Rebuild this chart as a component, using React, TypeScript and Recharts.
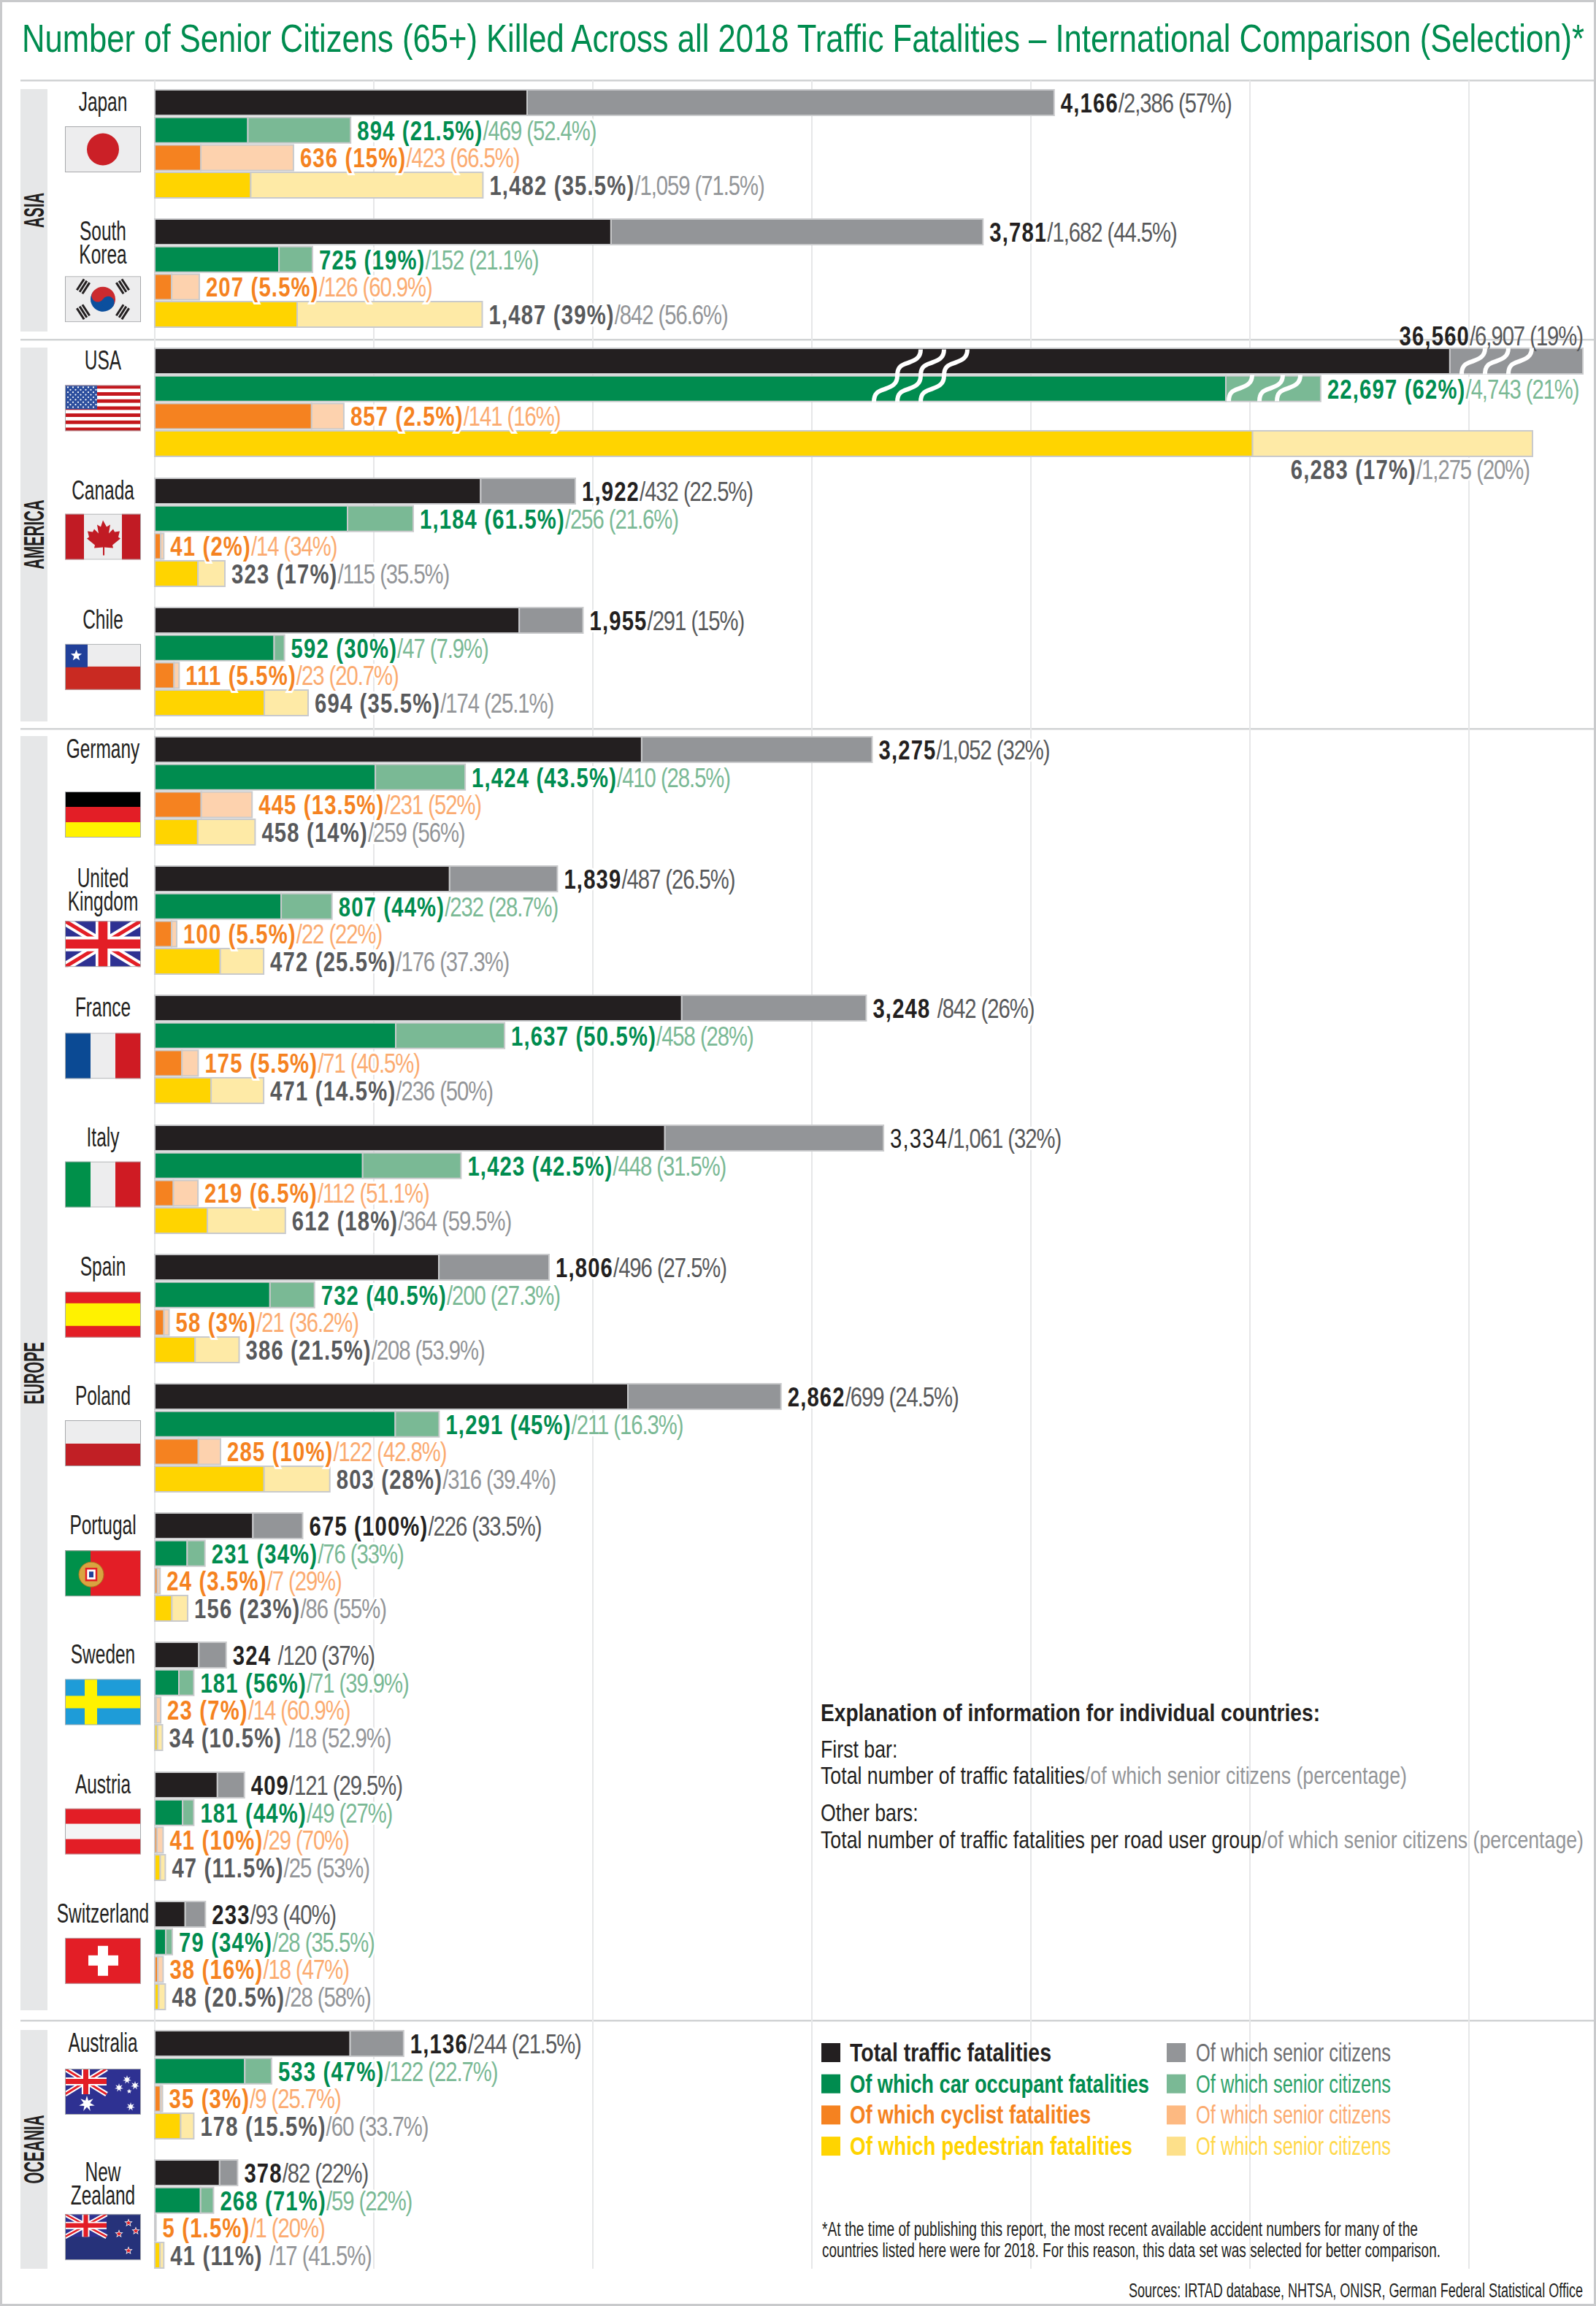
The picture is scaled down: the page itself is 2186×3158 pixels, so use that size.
import { BarChart, Bar, XAxis, YAxis, CartesianGrid, Cell, LabelList } from "recharts";

const countries = ["Japan", "South Korea", "USA", "Canada", "Chile", "Germany", "United Kingdom", "France", "Italy", "Spain", "Poland", "Portugal", "Sweden", "Austria", "Switzerland", "Australia", "New Zealand"];

// bar lengths; USA is drawn with a broken axis so its lengths are the drawn ones
const totalUnder65 = [1700, 2083, 5913, 1488, 1664, 2223, 1346, 2406, 2329, 1297, 2160, 448, 201, 286, 139, 892, 296];
const totalSenior = [2406, 1698, 607, 432, 291, 1052, 492, 842, 998, 503, 699, 227, 125, 123, 92, 244, 82];
const carUnder65 = [425, 567, 4890, 880, 545, 1007, 577, 1100, 949, 526, 1098, 148, 110, 127, 50, 411, 209];
const carSenior = [469, 153, 433, 300, 47, 410, 232, 497, 449, 203, 200, 81, 68, 51, 30, 122, 59];
const cyclistUnder65 = [210, 77, 716, 27, 88, 212, 77, 124, 85, 42, 199, 12, 6, 10, 14, 26, 4];
const cyclistSenior = [423, 126, 147, 14, 23, 232, 23, 74, 112, 23, 101, 12, 21, 28, 24, 9, 1];
const pedestrianUnder65 = [438, 650, 5012, 197, 500, 196, 299, 257, 240, 184, 499, 78, 12, 25, 18, 118, 24];
const pedestrianSenior = [1060, 845, 1278, 123, 200, 262, 198, 240, 356, 201, 300, 72, 23, 23, 30, 60, 17];

const totalStrong = ["4,166", "3,781", "36,560", "1,922", "1,955", "3,275", "1,839", "3,248 ", "3,334", "1,806", "2,862", "675 (100%)", "324 ", "409", "233", "1,136", "378"];
const totalLight = ["/2,386 (57%)", "/1,682 (44.5%)", "/6,907 (19%)", "/432 (22.5%)", "/291 (15%)", "/1,052 (32%)", "/487 (26.5%)", "/842 (26%)", "/1,061 (32%)", "/496 (27.5%)", "/699 (24.5%)", "/226 (33.5%)", "/120 (37%)", "/121 (29.5%)", "/93 (40%)", "/244 (21.5%)", "/82 (22%)"];
const carStrong = ["894 (21.5%)", "725 (19%)", "22,697 (62%)", "1,184 (61.5%)", "592 (30%)", "1,424 (43.5%)", "807 (44%)", "1,637 (50.5%)", "1,423 (42.5%)", "732 (40.5%)", "1,291 (45%)", "231 (34%)", "181 (56%)", "181 (44%)", "79 (34%)", "533 (47%)", "268 (71%)"];
const carLight = ["/469 (52.4%)", "/152 (21.1%)", "/4,743 (21%)", "/256 (21.6%)", "/47 (7.9%)", "/410 (28.5%)", "/232 (28.7%)", "/458 (28%)", "/448 (31.5%)", "/200 (27.3%)", "/211 (16.3%)", "/76 (33%)", "/71 (39.9%)", "/49 (27%)", "/28 (35.5%)", "/122 (22.7%)", "/59 (22%)"];
const cyclistStrong = ["636 (15%)", "207 (5.5%)", "857 (2.5%)", "41 (2%)", "111 (5.5%)", "445 (13.5%)", "100 (5.5%)", "175 (5.5%)", "219 (6.5%)", "58 (3%)", "285 (10%)", "24 (3.5%)", "23 (7%)", "41 (10%)", "38 (16%)", "35 (3%)", "5 (1.5%)"];
const cyclistLight = ["/423 (66.5%)", "/126 (60.9%)", "/141 (16%)", "/14 (34%)", "/23 (20.7%)", "/231 (52%)", "/22 (22%)", "/71 (40.5%)", "/112 (51.1%)", "/21 (36.2%)", "/122 (42.8%)", "/7 (29%)", "/14 (60.9%)", "/29 (70%)", "/18 (47%)", "/9 (25.7%)", "/1 (20%)"];
const pedestrianStrong = ["1,482 (35.5%)", "1,487 (39%)", "6,283 (17%)", "323 (17%)", "694 (35.5%)", "458 (14%)", "472 (25.5%)", "471 (14.5%)", "612 (18%)", "386 (21.5%)", "803 (28%)", "156 (23%)", "34 (10.5%) ", "47 (11.5%)", "48 (20.5%)", "178 (15.5%)", "41 (11%) "];
const pedestrianLight = ["/1,059 (71.5%)", "/842 (56.6%)", "/1,275 (20%)", "/115 (35.5%)", "/174 (25.1%)", "/259 (56%)", "/176 (37.3%)", "/236 (50%)", "/364 (59.5%)", "/208 (53.9%)", "/316 (39.4%)", "/86 (55%)", "/18 (52.9%)", "/25 (53%)", "/28 (58%)", "/60 (33.7%)", "/17 (41.5%)"];

const gridTicks = [0, 1000, 2000, 3000, 4000, 5000, 6000];

const FONT = '"Liberation Sans", sans-serif';
const GREEN = "#008c4f";
const BLACK = "#231f20";
const DARK = "#58595b";
const BORDER = "#c9cacc";

const groupStyles = [
  { main: BLACK, senior: "#939598", strong: BLACK, light: DARK },
  { main: GREEN, senior: "#7ab995", strong: GREEN, light: "#7ab995" },
  { main: "#f58220", senior: "#fdd2ae", strong: "#f58220", light: "#fbab70" },
  { main: "#ffd400", senior: "#feeaa6", strong: DARK, light: "#939598" },
];

const AXIS_MAX = 6580;
const PAD_LEFT = 10;
const CHART_W = 1974 + PAD_LEFT;
const ROW = 37.7;
const BLOCK_STEP = 177.2;
const FIRST_TOP = 124;
const blockTop = (i: number) => FIRST_TOP + BLOCK_STEP * i;

function rowsFor(i: number) {
  return [
    { group: "Total", under65: totalUnder65[i], senior: totalSenior[i], strong: totalStrong[i], light: totalLight[i] },
    { group: "Car", under65: carUnder65[i], senior: carSenior[i], strong: carStrong[i], light: carLight[i] },
    { group: "Cyclist", under65: cyclistUnder65[i], senior: cyclistSenior[i], strong: cyclistStrong[i], light: cyclistLight[i] },
    { group: "Pedestrian", under65: pedestrianUnder65[i], senior: pedestrianSenior[i], strong: pedestrianStrong[i], light: pedestrianLight[i] },
  ];
}

function CountryChart({ index }: { index: number }) {
  const rows = rowsFor(index);
  const isUsa = countries[index] === "USA";
  const isItaly = countries[index] === "Italy";

  const renderLabel = (p: any) => {
    const row = rows[p.index];
    const st = groupStyles[p.index];
    const end = p.x + p.width;
    let x = end + 9;
    let y = p.y + p.height - 4;
    let anchor = "start";
    let halo = "#fff";
    // the USA labels don't fit beside the long bars
    if (isUsa && p.index === 0) {
      x = end;
      y = p.y - 4;
      anchor = "end";
      halo = "none";
    }
    if (isUsa && p.index === 3) {
      x = end - 4;
      y = p.y + p.height + 31;
      anchor = "end";
    }
    const plain = isItaly && p.index === 0;
    return (
      <text
        transform={`translate(${x} ${y}) scale(0.79 1)`}
        textAnchor={anchor}
        fontFamily={FONT}
        fontSize={37}
        stroke={halo}
        strokeWidth={6}
        paintOrder="stroke"
        style={{ whiteSpace: "pre" }}
      >
        <tspan fill={st.strong} fontWeight={plain ? 400 : 700} letterSpacing={1.5}>{row.strong}</tspan>
        <tspan fill={st.light} letterSpacing={-1.3}>{row.light}</tspan>
      </text>
    );
  };

  return (
    <div style={{ position: "absolute", left: 212 - PAD_LEFT, top: blockTop(index) - 2 - 50 }}>
      <BarChart
        width={CHART_W}
        height={ROW * 4 + 100}
        data={rows}
        layout="vertical"
        barSize={35}
        margin={{ top: 50, right: 0, bottom: 50, left: PAD_LEFT }}
      >
        <XAxis type="number" hide domain={[0, AXIS_MAX]} />
        <YAxis type="category" dataKey="group" hide />
        <Bar dataKey="under65" stackId="a" isAnimationActive={false} stroke={BORDER} strokeWidth={2}>
          {rows.map((_, k) => (
            <Cell key={k} fill={groupStyles[k].main} />
          ))}
        </Bar>
        <Bar dataKey="senior" stackId="a" isAnimationActive={false} stroke={BORDER} strokeWidth={2}>
          {rows.map((_, k) => (
            <Cell key={k} fill={groupStyles[k].senior} />
          ))}
          <LabelList dataKey="senior" content={renderLabel} />
        </Bar>
      </BarChart>
    </div>
  );
}

function GridBackground() {
  return (
    <div style={{ position: "absolute", left: 212 - PAD_LEFT, top: 110 }}>
      <BarChart
        width={CHART_W}
        height={2997}
        data={[{ group: "grid", v: 0 }]}
        layout="vertical"
        margin={{ top: 0, right: 0, bottom: 0, left: PAD_LEFT }}
      >
        <CartesianGrid vertical horizontal={false} stroke="#e6e7e8" strokeWidth={2} verticalValues={gridTicks} />
        <XAxis type="number" hide domain={[0, AXIS_MAX]} ticks={gridTicks} />
        <YAxis type="category" dataKey="group" hide />
        <Bar dataKey="v" isAnimationActive={false} fill="none" />
      </BarChart>
    </div>
  );
}

const regionBands = [
  { name: "ASIA", top: 122, bottom: 454, len: 48 },
  { name: "AMERICA", top: 476, bottom: 988, len: 95 },
  { name: "EUROPE", top: 1008, bottom: 2753, len: 85 },
  { name: "OCEANIA", top: 2780, bottom: 3107, len: 94 },
];
const separators = [110, 465, 998, 2767];

const WHITE = "#ededee";
const RED = "#e31e26";

function star(cx: number, cy: number, r: number, points = 5) {
  const pts: string[] = [];
  for (let i = 0; i < points * 2; i++) {
    const rad = i % 2 === 0 ? r : r * 0.42;
    const a = (Math.PI * i) / points - Math.PI / 2;
    pts.push(`${(cx + rad * Math.cos(a)).toFixed(2)},${(cy + rad * Math.sin(a)).toFixed(2)}`);
  }
  return pts.join(" ");
}

function UnionJack({ w, h }: { w: number; h: number }) {
  const t = h / 5;
  return (
    <g>
      <rect width={w} height={h} fill="#2e3192" />
      <path d={`M0 0L${w} ${h}M${w} 0L0 ${h}`} stroke="#fff" strokeWidth={t} />
      <path d={`M0 0L${w} ${h}M${w} 0L0 ${h}`} stroke={RED} strokeWidth={t / 2.5} />
      <path d={`M${w / 2} 0V${h}M0 ${h / 2}H${w}`} stroke="#fff" strokeWidth={t * 1.6} />
      <path d={`M${w / 2} 0V${h}M0 ${h / 2}H${w}`} stroke={RED} strokeWidth={t} />
    </g>
  );
}

function Trigram({ x, y, rot }: { x: number; y: number; rot: number }) {
  return (
    <g transform={`translate(${x} ${y}) rotate(${rot})`} fill="#231f20">
      <rect x={-9} y={-6} width={18} height={3} />
      <rect x={-9} y={-1.5} width={18} height={3} />
      <rect x={-9} y={3} width={18} height={3} />
    </g>
  );
}

function FlagArt({ name }: { name: string }) {
  switch (name) {
    case "Japan":
      return (<><rect width={104} height={63} fill={WHITE} /><circle cx={52} cy={31.5} r={22} fill="#cb2027" /></>);
    case "South Korea":
      return (
        <>
          <rect width={104} height={63} fill={WHITE} />
          <g transform="rotate(33 52 31.5)">
            <path d="M35 31.5a17 17 0 0 1 34 0z" fill="#cb2a2f" />
            <path d="M35 31.5a17 17 0 0 0 34 0z" fill="#0b4f9e" />
            <circle cx={43.5} cy={31.5} r={8.5} fill="#cb2a2f" />
            <circle cx={60.5} cy={31.5} r={8.5} fill="#0b4f9e" />
          </g>
          <Trigram x={25} y={14} rot={-57} />
          <Trigram x={79} y={14} rot={57} />
          <Trigram x={25} y={49} rot={57} />
          <Trigram x={79} y={49} rot={-57} />
        </>
      );
    case "USA":
      return (
        <>
          <rect width={104} height={63} fill="#fff" />
          {[0, 2, 4, 6, 8, 10, 12].map((k) => (
            <rect key={k} y={(k * 63) / 13} width={104} height={63 / 13} fill="#c4161c" />
          ))}
          <rect width={44} height={33} fill="#2d4f9e" />
          {[0, 1, 2, 3, 4, 5, 6, 7, 8].map((r) =>
            [0, 1, 2, 3, 4, 5].map((c) => (
              <circle key={`${r}-${c}`} cx={4 + c * 7 + (r % 2) * 3.5} cy={3 + r * 3.4} r={1.1} fill="#fff" />
            ))
          )}
        </>
      );
    case "Canada":
      return (
        <>
          <rect width={104} height={63} fill={WHITE} />
          <rect width={26} height={63} fill="#c11b24" />
          <rect x={78} width={26} height={63} fill="#c11b24" />
          <path d="M52 9l5 9 5-3-2 12 6-6 2 4 7-1-2 8 3 2-11 9 1 4-12-1v11h-2V46l-12 1 1-4-11-9 3-2-2-8 7 1 2-4 6 6-2-12 5 3z" fill="#c11b24" />
        </>
      );
    case "Chile":
      return (
        <>
          <rect width={104} height={32} fill={WHITE} />
          <rect y={31} width={104} height={32} fill="#c92a22" />
          <rect width={31} height={32} fill="#21409a" />
          <polygon points={star(15.5, 16, 8)} fill="#fff" />
        </>
      );
    case "Germany":
      return (<><rect width={104} height={21} fill="#000" /><rect y={21} width={104} height={21} fill={RED} /><rect y={42} width={104} height={21} fill="#fff200" /></>);
    case "United Kingdom":
      return <UnionJack w={104} h={63} />;
    case "France":
      return (<><rect width={35} height={63} fill="#0b4a94" /><rect x={35} width={34} height={63} fill={WHITE} /><rect x={69} width={35} height={63} fill="#cf1b23" /></>);
    case "Italy":
      return (<><rect width={35} height={63} fill="#00904a" /><rect x={35} width={34} height={63} fill={WHITE} /><rect x={69} width={35} height={63} fill="#cf1b23" /></>);
    case "Spain":
      return (<><rect width={104} height={63} fill={RED} /><rect y={16} width={104} height={31} fill="#fff200" /></>);
    case "Poland":
      return (<><rect width={104} height={32} fill={WHITE} /><rect y={32} width={104} height={31} fill="#c11f25" /></>);
    case "Portugal":
      return (
        <>
          <rect width={104} height={63} fill={RED} />
          <rect width={35} height={63} fill="#00904a" />
          <circle cx={36} cy={33} r={17} fill="#d9a441" stroke="#a87b20" />
          <rect x={29} y={25} width={14} height={16} fill="#fff" stroke={RED} strokeWidth={2.5} />
          <rect x={33} y={29} width={6} height={8} fill="#21409a" />
        </>
      );
    case "Sweden":
      return (<><rect width={104} height={63} fill="#1e9cd8" /><rect x={27} width={17} height={63} fill="#fff200" /><rect y={23} width={104} height={17} fill="#fff200" /></>);
    case "Austria":
      return (<><rect width={104} height={63} fill={RED} /><rect y={21} width={104} height={21} fill="#f4f4f5" /></>);
    case "Switzerland":
      return (<><rect width={104} height={63} fill={RED} /><rect x={45} y={11} width={14} height={41} fill="#fff" /><rect x={32} y={24} width={41} height={14} fill="#fff" /></>);
    case "Australia":
      return (
        <>
          <rect width={104} height={63} fill="#2e3192" />
          <UnionJack w={57} h={35} />
          <polygon points={star(30, 48, 11, 7)} fill="#fff" />
          <polygon points={star(85, 15, 6, 7)} fill="#fff" />
          <polygon points={star(74, 26, 6, 7)} fill="#fff" />
          <polygon points={star(96, 23, 6, 7)} fill="#fff" />
          <polygon points={star(88, 31, 3.5, 5)} fill="#fff" />
          <polygon points={star(90, 52, 6, 7)} fill="#fff" />
        </>
      );
    case "New Zealand":
      return (
        <>
          <rect width={104} height={63} fill="#26327a" />
          <UnionJack w={57} h={31} />
          {[[87, 12], [74, 27], [97, 23], [87, 50]].map(([x, y]) => (
            <g key={x + "-" + y}>
              <polygon points={star(x, y, 6)} fill="#fff" />
              <polygon points={star(x, y, 3.8)} fill={RED} />
            </g>
          ))}
        </>
      );
    default:
      return null;
  }
}

const flagOffset = [49, 77, 49, 48, 49, 74, 74, 50, 49, 50, 49, 50, 49, 49, 49, 51, 73];

// wavy white breaks over the USA bars, one per axis break
function breakPath(x: number, yBottom: number, waves: number) {
  let d = `M${x} ${yBottom}`;
  for (let i = 0; i < waves; i++) {
    d += " c0,-14 8,-15 16,-18 c8,-3 16,-6 16,-18";
  }
  return d;
}

function Breaks() {
  const usa = blockTop(2);
  const marks = [
    { x: 1197, y: usa + 72, waves: 2 },
    { x: 1229, y: usa + 72, waves: 2 },
    { x: 1261, y: usa + 72, waves: 2 },
    { x: 2002, y: usa + 34, waves: 1 },
    { x: 2034, y: usa + 34, waves: 1 },
    { x: 2066, y: usa + 34, waves: 1 },
    { x: 1683, y: usa + 71, waves: 1 },
    { x: 1725, y: usa + 71, waves: 1 },
    { x: 1749, y: usa + 71, waves: 1 },
  ];
  return (
    <svg width={2186} height={3158} style={{ position: "absolute", left: 0, top: 0, pointerEvents: "none" }}>
      {marks.map((m, i) => (
        <path key={i} d={breakPath(m.x, m.y, m.waves)} fill="none" stroke="#fff" strokeWidth={6} />
      ))}
    </svg>
  );
}

const legendRows = [
  { label: "Total traffic fatalities", color: BLACK, senior: "#939598", seniorText: "#6d6e71", w: 276 },
  { label: "Of which car occupant fatalities", color: GREEN, senior: "#7ab995", seniorText: "#2fa36b", w: 410 },
  { label: "Of which cyclist fatalities", color: "#f58220", senior: "#fdb981", seniorText: "#fbab70", w: 330 },
  { label: "Of which pedestrian fatalities", color: "#ffd400", senior: "#fde08a", seniorText: "#ffd84a", w: 387 },
];

function Frame() {
  return (
    <svg width={2186} height={3158} style={{ position: "absolute", left: 0, top: 0 }}>
      <rect x={1.5} y={1.5} width={2183} height={3155} fill="#fff" stroke={BORDER} strokeWidth={3} />
      <text x={30} y={71} fontFamily={FONT} fontSize={54} fill={GREEN} textLength={2140} lengthAdjust="spacingAndGlyphs">
        Number of Senior Citizens (65+) Killed Across all 2018 Traffic Fatalities – International Comparison (Selection)*
      </text>
      {separators.map((y) => (
        <rect key={y} x={28} y={y - 1} width={2155} height={2.5} fill="#d1d3d4" />
      ))}
      {regionBands.map((b) => (
        <g key={b.name}>
          <rect x={28} y={b.top} width={37} height={b.bottom - b.top} fill="#e6e7e8" />
          <text
            transform={`translate(60 ${(b.top + b.bottom) / 2}) rotate(-90)`}
            textAnchor="middle"
            fontFamily={FONT}
            fontSize={38}
            fontWeight={700}
            fill={BLACK}
            textLength={b.len}
            lengthAdjust="spacingAndGlyphs"
          >
            {b.name}
          </text>
        </g>
      ))}
    </svg>
  );
}

function Notes() {
  const T = (p: any) => <text fontFamily={FONT} {...p} lengthAdjust="spacingAndGlyphs" />;
  const Wide = ({ y, children }: any) => (
    <text transform={`translate(1124 ${y}) scale(0.81 1)`} fontFamily={FONT} fontSize={33}>
      {children}
    </text>
  );
  return (
    <svg width={2186} height={3158} style={{ position: "absolute", left: 0, top: 0, pointerEvents: "none" }}>
      {countries.map((name, i) => {
        const top = blockTop(i);
        const parts = name.split(" ");
        return (
          <g key={name}>
            {parts.map((part, k) => (
              <text
                key={part}
                transform={`translate(141 ${top + 28 + k * 32}) scale(0.68 1)`}
                textAnchor="middle"
                fontFamily={FONT}
                fontSize={36}
                fill={BLACK}
              >
                {part}
              </text>
            ))}
            <svg x={89} y={top + flagOffset[i]} width={104} height={63} viewBox="0 0 104 63">
              <FlagArt name={name} />
              <rect x={0.5} y={0.5} width={103} height={62} fill="none" stroke="#a7a9ac" />
            </svg>
          </g>
        );
      })}

      <T x={1124} y={2357} fontSize={33} fontWeight={700} fill={BLACK} textLength={684}>
        Explanation of information for individual countries:
      </T>
      <Wide y={2407}><tspan fill={BLACK}>First bar:</tspan></Wide>
      <Wide y={2443}>
        <tspan fill={BLACK}>Total number of traffic fatalities</tspan>
        <tspan fill="#939598">/of which senior citizens (percentage)</tspan>
      </Wide>
      <Wide y={2494}><tspan fill={BLACK}>Other bars:</tspan></Wide>
      <Wide y={2531}>
        <tspan fill={BLACK}>Total number of traffic fatalities per road user group</tspan>
        <tspan fill="#939598">/of which senior citizens (percentage)</tspan>
      </Wide>

      {legendRows.map((r, i) => {
        const y = 2798 + i * 42.7;
        return (
          <g key={r.label}>
            <rect x={1125} y={y} width={26} height={26} fill={r.color} />
            <T x={1164} y={y + 25} fontSize={35} fontWeight={700} fill={r.color} textLength={r.w}>{r.label}</T>
            <rect x={1598} y={y} width={26} height={26} fill={r.senior} />
            <T x={1638} y={y + 25} fontSize={35} fill={r.seniorText} textLength={267}>Of which senior citizens</T>
          </g>
        );
      })}

      <T x={1126} y={3062} fontSize={27} fill={BLACK} textLength={816}>
        *At the time of publishing this report, the most recent available accident numbers for many of the
      </T>
      <T x={1126} y={3091} fontSize={27} fill={BLACK} textLength={847}>
        countries listed here were for 2018. For this reason, this data set was selected for better comparison.
      </T>
      <T x={1546} y={3146} fontSize={27} fill={BLACK} textLength={622}>
        Sources: IRTAD database, NHTSA, ONISR, German Federal Statistical Office
      </T>
    </svg>
  );
}

export default function App() {
  return (
    <div style={{ position: "relative", width: 2186, height: 3158, background: "#fff", overflow: "hidden" }}>
      <style>{"body{margin:0}"}</style>
      <Frame />
      <GridBackground />
      {countries.map((name, i) => (
        <CountryChart key={name} index={i} />
      ))}
      <Breaks />
      <Notes />
    </div>
  );
}
